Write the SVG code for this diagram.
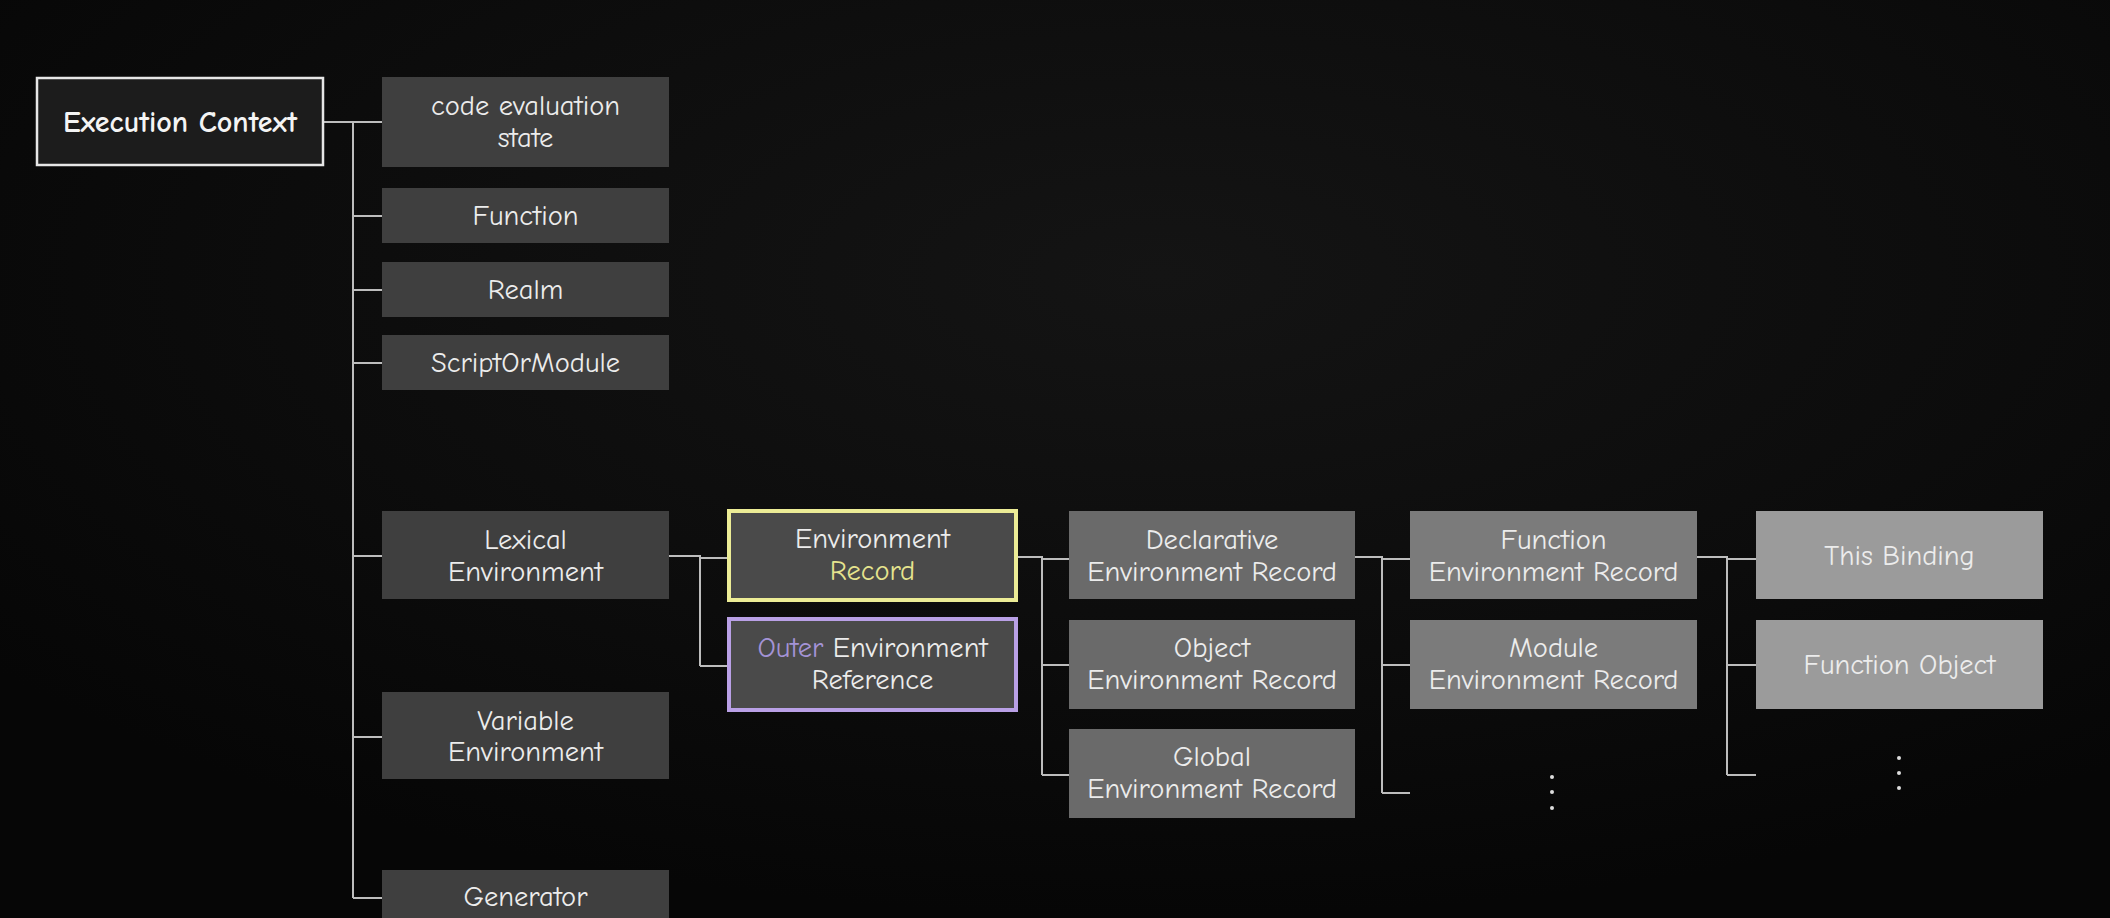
<svg xmlns="http://www.w3.org/2000/svg" width="2110" height="918" viewBox="0 0 2110 918">
<defs>
<radialGradient id="bg" cx="0.55" cy="0.3" r="0.7">
<stop offset="0" stop-color="#141414"/>
<stop offset="0.6" stop-color="#0c0c0c"/>
<stop offset="1" stop-color="#060606"/>
</radialGradient>
<style>
text{font-family:"Comic Sans MS","Comic Neue","Noto Sans",sans-serif;font-size:28.5px;text-anchor:middle;fill:#ececec}
.b{font-weight:bold;font-size:30px;fill:#f4f4f4}
.c1{fill:#3f3f3f}
.c2{fill:#4a4a4a}
.c3{fill:#6a6a6a}
.c4{fill:#7b7b7b}
.c5{fill:#9b9b9b}
.ln{fill:none;stroke:#bdbdbd;stroke-width:2}
.dot{fill:#dddddd}
</style>
</defs>
<rect width="2110" height="918" fill="url(#bg)"/>
<g id="connectors" class="ln">
<path d="M324 122 H382 M353 122 V898 M353 216 H382 M353 290 H382 M353 363 H382 M353 556 H382 M353 737 H382 M353 898 H382"/>
<path d="M668 556 H700 V666 M700 558 H729 M700 666 H729"/>
<path d="M1018 557 H1042 V775 M1042 559 H1069 M1042 665 H1069 M1042 775 H1069"/>
<path d="M1355 557 H1382 V793 M1382 559 H1410 M1382 665 H1410 M1382 793 H1410"/>
<path d="M1697 557 H1727 V775 M1727 559 H1756 M1727 665 H1756 M1727 775 H1756"/>
</g>
<g id="n-ec"><rect x="37" y="78" width="286" height="87" fill="#1c1c1c" stroke="#e6e6e6" stroke-width="2.5"/><text class="b" x="180" y="132">Execution Context</text></g>
<g id="n-ces"><rect class="c1" x="382" y="77" width="287" height="90"/><text x="525.5" y="115">code evaluation</text><text x="525.5" y="147">state</text></g>
<g id="n-fn"><rect class="c1" x="382" y="188" width="287" height="55"/><text x="525.5" y="225">Function</text></g>
<g id="n-realm"><rect class="c1" x="382" y="262" width="287" height="55"/><text x="525.5" y="299">Realm</text></g>
<g id="n-som"><rect class="c1" x="382" y="335" width="287" height="55"/><text x="525.5" y="372">ScriptOrModule</text></g>
<g id="n-lex"><rect class="c1" x="382" y="511" width="287" height="88"/><text x="525.5" y="549">Lexical</text><text x="525.5" y="581">Environment</text></g>
<g id="n-var"><rect class="c1" x="382" y="692" width="287" height="87"/><text x="525.5" y="730">Variable</text><text x="525.5" y="761">Environment</text></g>
<g id="n-gen"><rect class="c1" x="382" y="870" width="287" height="60"/><text x="525.5" y="906">Generator</text></g>
<g id="n-envrec"><rect class="c2" x="729" y="511" width="287" height="89" stroke="#ecec96" stroke-width="4"/><text x="872.5" y="548">Environment</text><text x="872.5" y="580" style="fill:#e6e48e">Record</text></g>
<g id="n-outer"><rect class="c2" x="729" y="619" width="287" height="91" stroke="#b9a0e6" stroke-width="4"/><text x="872.5" y="657"><tspan style="fill:#a493d6">Outer</tspan> Environment</text><text x="872.5" y="689">Reference</text></g>
<g id="n-decl"><rect class="c3" x="1069" y="511" width="286" height="88"/><text x="1212" y="549">Declarative</text><text x="1212" y="581">Environment Record</text></g>
<g id="n-obj"><rect class="c3" x="1069" y="620" width="286" height="89"/><text x="1212" y="657">Object</text><text x="1212" y="689">Environment Record</text></g>
<g id="n-glob"><rect class="c3" x="1069" y="729" width="286" height="89"/><text x="1212" y="766">Global</text><text x="1212" y="798">Environment Record</text></g>
<g id="n-fer"><rect class="c4" x="1410" y="511" width="287" height="88"/><text x="1553.5" y="549">Function</text><text x="1553.5" y="581">Environment Record</text></g>
<g id="n-mer"><rect class="c4" x="1410" y="620" width="287" height="89"/><text x="1553.5" y="657">Module</text><text x="1553.5" y="689">Environment Record</text></g>
<g id="n-this"><rect class="c5" x="1756" y="511" width="287" height="88"/><text x="1899.5" y="565">This Binding</text></g>
<g id="n-fobj"><rect class="c5" x="1756" y="620" width="287" height="89"/><text x="1899.5" y="674">Function Object</text></g>
<g id="more1"><circle class="dot" cx="1552" cy="777" r="2"/><circle class="dot" cx="1552" cy="792" r="2"/><circle class="dot" cx="1552" cy="808" r="2"/></g>
<g id="more2"><circle class="dot" cx="1899" cy="758" r="2"/><circle class="dot" cx="1899" cy="773" r="2"/><circle class="dot" cx="1899" cy="788" r="2"/></g>
</svg>
